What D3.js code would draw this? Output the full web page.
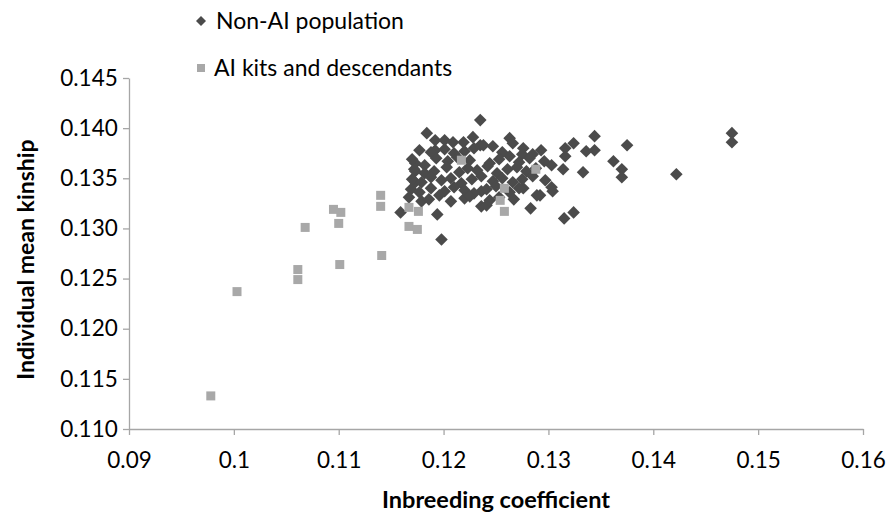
<!DOCTYPE html>
<html><head><meta charset="utf-8">
<script src="https://cdn.jsdelivr.net/npm/d3@7"></script>
<style>
body{margin:0;background:#fff;}
text{font-family:Lato,"Open Sans",sans-serif;fill:#000;}
</style></head>
<body><svg id="c" width="889" height="516"></svg>
<script>
// Non-AI population: [inbreeding coefficient, individual mean kinship]
const nonAI = [
 [0.1475,0.1395],[0.1475,0.1386],[0.1422,0.1354],[0.1375,0.1383],[0.1370,0.1359],[0.1370,0.1351],
 [0.1362,0.1367],[0.1344,0.1392],[0.1344,0.1378],[0.1336,0.1377],[0.1333,0.1356],[0.1324,0.1385],
 [0.1316,0.1380],[0.1316,0.1372],[0.1314,0.1359],[0.1303,0.1363],[0.1324,0.1316],[0.1315,0.1310],
 [0.1303,0.1341],[0.1304,0.1337],[0.1293,0.1378],[0.1292,0.1333],
 [0.1159,0.1316],[0.1194,0.1314],[0.1198,0.1289],[0.1173,0.1346],[0.1179,0.1327],[0.1236,0.1322],
 [0.1276,0.1340],[0.1289,0.1333],[0.1283,0.1320],[0.1241,0.1323],[0.1236,0.1337],
 [0.1184,0.1395],[0.1192,0.1388],[0.1201,0.1388],[0.1209,0.1386],[0.1219,0.1386],[0.1228,0.1391],
 [0.1235,0.1408],[0.1263,0.1390],[0.1266,0.1385],[0.1235,0.1383],[0.1247,0.1382],[0.1276,0.1380],
 [0.1238,0.1383],[0.1192,0.1378],[0.1173,0.1365],[0.1182,0.1363],[0.1173,0.1357],[0.1182,0.1355],
 [0.1177,0.1378],[0.1188,0.1376],[0.1201,0.1379],[0.1210,0.1375],[0.1220,0.1377],[0.1229,0.1380],
 [0.1256,0.1376],[0.1275,0.1374],[0.1285,0.1374],
 [0.1170,0.1369],[0.1193,0.1370],[0.1204,0.1367],[0.1213,0.1371],[0.1225,0.1368],[0.1244,0.1365],
 [0.1253,0.1369],[0.1263,0.1372],[0.1272,0.1366],[0.1282,0.1370],[0.1296,0.1367],
 [0.1172,0.1359],[0.1191,0.1357],[0.1203,0.1361],[0.1215,0.1356],[0.1223,0.1360],[0.1232,0.1358],
 [0.1242,0.1362],[0.1251,0.1355],[0.1261,0.1359],[0.1270,0.1361],[0.1279,0.1357],[0.1288,0.1360],
 [0.1170,0.1349],[0.1179,0.1346],[0.1188,0.1351],[0.1198,0.1348],[0.1207,0.1350],[0.1217,0.1345],
 [0.1227,0.1349],[0.1236,0.1352],[0.1247,0.1347],[0.1256,0.1350],[0.1266,0.1346],[0.1275,0.1349],
 [0.1285,0.1352],[0.1297,0.1348],
 [0.1169,0.1339],[0.1177,0.1336],[0.1188,0.1340],[0.1201,0.1337],[0.1210,0.1341],[0.1220,0.1338],
 [0.1229,0.1335],[0.1241,0.1339],[0.1250,0.1342],[0.1263,0.1336],[0.1272,0.1340],
 [0.1167,0.1331],[0.1186,0.1329],[0.1196,0.1333],[0.1207,0.1327],[0.1220,0.1330],[0.1225,0.1332],
 [0.1244,0.1328],[0.1253,0.1331],[0.1267,0.1329]
];
// AI kits and descendants
const aiKits = [
 [0.1140,0.1333],[0.1140,0.1322],[0.1095,0.1319],[0.1102,0.1316],[0.1100,0.1305],[0.1068,0.1301],
 [0.1167,0.1321],[0.1176,0.1317],[0.1167,0.1302],[0.1175,0.1299],[0.1141,0.1273],[0.1101,0.1264],
 [0.1061,0.1259],[0.1061,0.1249],[0.1003,0.1237],[0.0978,0.1133],
 [0.1217,0.1368],[0.1288,0.1359],[0.1258,0.1340],[0.1254,0.1328],[0.1258,0.1317]
];
const xTicks = [0.09,0.10,0.11,0.12,0.13,0.14,0.15,0.16];
const yTicks = [0.110,0.115,0.120,0.125,0.130,0.135,0.140,0.145];
const seriesNames = ["Non-AI population","AI kits and descendants"];

const svg = d3.select("#c");
const L=129,R=863,T=78,B=429;
const x = d3.scaleLinear().domain([0.09,0.16]).range([L,R]);
const y = d3.scaleLinear().domain([0.110,0.145]).range([B,T]);
const axisCol="#a6a6a6";

const xa = svg.append("g").attr("transform",`translate(0,${B})`)
  .call(d3.axisBottom(x).tickValues(xTicks).tickFormat(d=>String(+d.toFixed(2))).tickSize(6).tickSizeOuter(0));
const ya = svg.append("g").attr("transform",`translate(${L},0)`)
  .call(d3.axisLeft(y).tickValues(yTicks).tickFormat(d3.format(".3f")).tickSize(6).tickSizeOuter(0));
[xa,ya].forEach(a=>{
  a.selectAll("path,line").attr("stroke",axisCol).attr("stroke-width",1.3);
  a.selectAll("text").style("font-size","22.5px").attr("fill","#000");
});
xa.selectAll("text").attr("dy","1.35em");
ya.selectAll("text").attr("dx","-0.1em");

svg.append("text").attr("x",(L+R)/2).attr("y",508).attr("text-anchor","middle")
  .style("font-size","23.5px").style("font-weight","bold").text("Inbreeding coefficient");
svg.append("text").attr("transform",`translate(34,${(T+B)/2+6}) rotate(-90)`).attr("text-anchor","middle")
  .style("font-size","23px").style("font-weight","bold").text("Individual mean kinship");

const diamond = (cx,cy,r)=>`M${cx},${cy-r}L${cx+r},${cy}L${cx},${cy+r}L${cx-r},${cy}Z`;
svg.append("g").selectAll("path").data(nonAI).join("path")
  .attr("d",d=>diamond(x(d[0]),y(d[1]),6.3)).attr("fill","#4b4b4b");
svg.append("g").selectAll("rect").data(aiKits).join("rect")
  .attr("x",d=>x(d[0])-4.5).attr("y",d=>y(d[1])-4.5).attr("width",9).attr("height",9).attr("fill","#a8a8a8");

// legend
const lg = svg.append("g");
lg.append("path").attr("d",diamond(201,21,5)).attr("fill","#4b4b4b");
lg.append("text").attr("x",216).attr("y",29).style("font-size","23px").text(seriesNames[0]);
lg.append("rect").attr("x",197).attr("y",64).attr("width",8).attr("height",8).attr("fill","#a8a8a8");
lg.append("text").attr("x",214).attr("y",76).style("font-size","23px").text(seriesNames[1]);
</script></body></html>
